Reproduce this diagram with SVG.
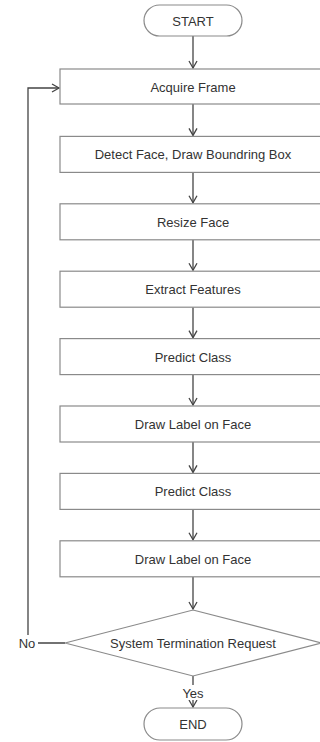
<svg xmlns="http://www.w3.org/2000/svg" width="320" height="742" viewBox="0 0 320 742">
<style>
.box{fill:#fff;stroke:#8a8a8a;stroke-width:1.2}
.t{font-family:"Liberation Sans",Arial,sans-serif;font-size:13px;fill:#333;text-anchor:middle}
.c{fill:none;stroke:#444;stroke-width:1.3}
</style>
<defs>
<marker id="ah" markerWidth="10" markerHeight="10" refX="8" refY="5" orient="auto" markerUnits="userSpaceOnUse">
<path d="M1,1 L8,5 L1,9" fill="none" stroke="#444" stroke-width="1.3"/>
</marker>
</defs>
<rect width="320" height="742" fill="#fff"/>
<g id="connectors">
<path class="c" d="M193,36 V68" marker-end="url(#ah)"/>
<path class="c" d="M193,104 V135.4" marker-end="url(#ah)"/>
<path class="c" d="M193,172.4 V202.8" marker-end="url(#ah)"/>
<path class="c" d="M193,239.8 V270.2" marker-end="url(#ah)"/>
<path class="c" d="M193,307.2 V337.6" marker-end="url(#ah)"/>
<path class="c" d="M193,374.6 V405" marker-end="url(#ah)"/>
<path class="c" d="M193,442 V472.4" marker-end="url(#ah)"/>
<path class="c" d="M193,509.4 V539.8" marker-end="url(#ah)"/>
<path class="c" d="M193,576.8 V609" marker-end="url(#ah)"/>
<path class="c" d="M193,676 V707" marker-end="url(#ah)"/>
<path class="c" d="M65,643 H28 V88 H59" marker-end="url(#ah)"/>
<rect x="16" y="635" width="22" height="16" fill="#fff"/>
<text class="t" x="27" y="648">No</text>
<rect x="181" y="685" width="24" height="15" fill="#fff"/>
<text class="t" x="193" y="698">Yes</text>
</g>
<g id="start"><rect class="box" x="144" y="5" width="98" height="31" rx="15.5"/><text class="t" x="193" y="26">START</text></g>
<g id="acquire"><rect class="box" x="60" y="69" width="266" height="35"/><text class="t" x="193" y="91.5">Acquire Frame</text></g>
<g id="detect"><rect class="box" x="60" y="136.4" width="266" height="36"/><text class="t" x="193" y="159">Detect Face, Draw Boundring Box</text></g>
<g id="resize"><rect class="box" x="60" y="203.8" width="266" height="36"/><text class="t" x="193" y="226.5">Resize Face</text></g>
<g id="extract"><rect class="box" x="60" y="271.2" width="266" height="36"/><text class="t" x="193" y="294">Extract Features</text></g>
<g id="predict1"><rect class="box" x="60" y="338.6" width="266" height="36"/><text class="t" x="193" y="361.5">Predict Class</text></g>
<g id="draw1"><rect class="box" x="60" y="406" width="266" height="36"/><text class="t" x="193" y="429">Draw Label on Face</text></g>
<g id="predict2"><rect class="box" x="60" y="473.4" width="266" height="36"/><text class="t" x="193" y="496">Predict Class</text></g>
<g id="draw2"><rect class="box" x="60" y="540.8" width="266" height="36"/><text class="t" x="193" y="563.5">Draw Label on Face</text></g>
<g id="decision"><polygon class="box" points="193,610 321,643 193,676 65,643"/><text class="t" x="193" y="647.5">System Termination Request</text></g>
<g id="end"><rect class="box" x="144" y="708" width="98" height="32" rx="16"/><text class="t" x="193" y="729">END</text></g>
</svg>
